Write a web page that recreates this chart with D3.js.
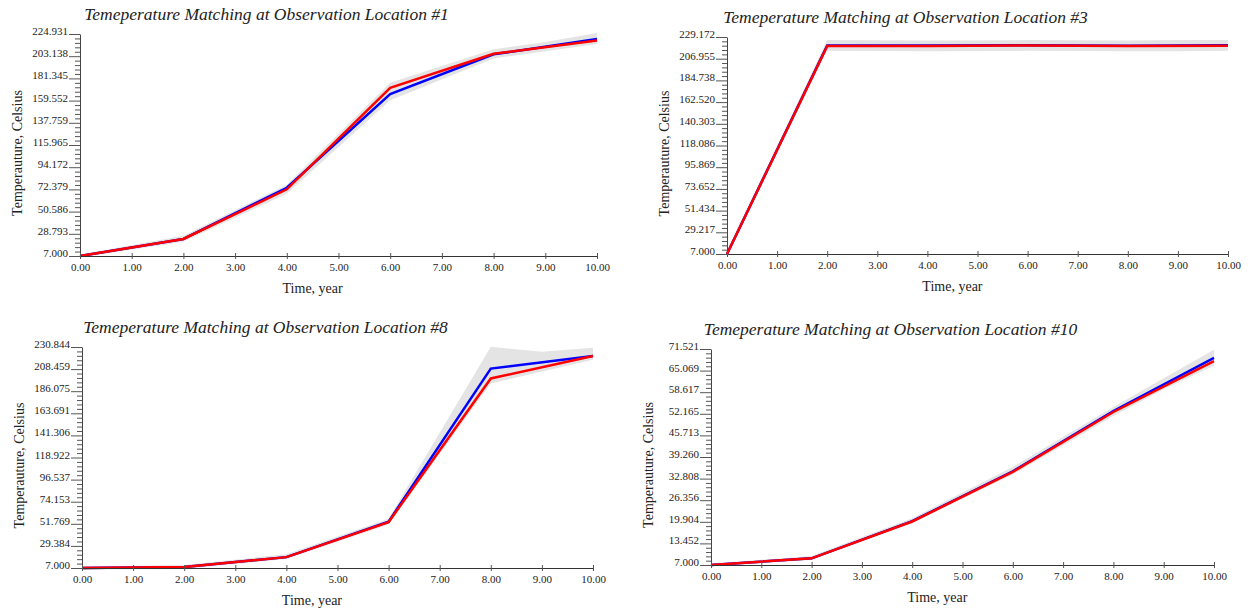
<!DOCTYPE html>
<html lang="en">
<head>
  <meta charset="UTF-8">
  <title>Temperature Matching</title>
  <script src="https://d3js.org/d3.v7.min.js"></script>
  <style>
    body {
      background: #fff;
      margin: 0;
    }
    text {
      font-family: 'Liberation Serif', 'Times New Roman', serif;
      fill: #222;
    }
    .title {
      font-size: 17.5px;
      font-style: italic;
      text-anchor: middle;
    }
    .axis-title {
      font-size: 14px;
      text-anchor: middle;
    }
    .tick text {
      font-size: 11px;
    }
  </style>
</head>
<body>
  <script>
    // observation locations
    var locations = ["#1", "#3", "#8", "#10"];

    // y tick labels, as printed
    var ticksLoc1 = ["7.000", "28.793", "50.586", "72.379", "94.172", "115.965", "137.759", "159.552", "181.345", "203.138", "224.931"];
    var ticksLoc3 = ["7.000", "29.217", "51.434", "73.652", "95.869", "118.086", "140.303", "162.520", "184.738", "206.955", "229.172"];
    var ticksLoc8 = ["7.000", "29.384", "51.769", "74.153", "96.537", "118.922", "141.306", "163.691", "186.075", "208.459", "230.844"];
    var ticksLoc10 = ["7.000", "13.452", "19.904", "26.356", "32.808", "39.260", "45.713", "52.165", "58.617", "65.069", "71.521"];

    // time, year
    var years = [0, 2, 4, 6, 8, 10];
    var bandYears = [0, 2, 4, 6, 8, 9, 10];

    // blue curve
    var blueLoc1 = [7, 23.7, 74, 166, 205, 220];
    var blueLoc3 = [7, 220.5, 220.5, 220.8, 220.3, 220.6];
    var blueLoc8 = [7, 8, 18, 54, 209, 221.7];
    var blueLoc10 = [7, 9, 20.1, 35, 53, 68.9];

    // red curve
    var redLoc1 = [7, 23.7, 72.5, 172, 205.5, 218.5];
    var redLoc3 = [7, 220, 220, 220.5, 220, 220.3];
    var redLoc8 = [7, 8, 18, 53.5, 199, 221.7];
    var redLoc10 = [7, 9, 20, 34.8, 52.7, 67.9];

    // grey envelope
    var lowLoc1 = [5.5, 21, 68, 160, 201, 208, 215];
    var highLoc1 = [8.5, 27, 77, 177, 210, 217, 226];
    var lowLoc3 = [5, 215, 214.5, 215, 214.5, 214.5, 215];
    var highLoc3 = [9, 226, 225.5, 226, 225.5, 226, 226];
    var lowLoc8 = [5.5, 6, 16, 51, 194, 206, 218];
    var highLoc8 = [8.5, 10, 21, 57, 231, 226, 230];
    var lowLoc10 = [6.6, 8.5, 19.5, 34, 51.5, 59.5, 66.5];
    var highLoc10 = [7.4, 9.7, 21, 36.3, 54.2, 62.8, 71.3];

    var yTicks = [ticksLoc1, ticksLoc3, ticksLoc8, ticksLoc10];
    var blue = [blueLoc1, blueLoc3, blueLoc8, blueLoc10];
    var red = [redLoc1, redLoc3, redLoc8, redLoc10];
    var low = [lowLoc1, lowLoc3, lowLoc8, lowLoc10];
    var high = [highLoc1, highLoc3, highLoc8, highLoc10];

    // plot rectangles (left, right, top, bottom)
    var frames = [
      { l: 80, r: 597, t: 34, b: 256 },
      { l: 727, r: 1228, t: 37, b: 254 },
      { l: 82, r: 593, t: 347, b: 568 },
      { l: 711, r: 1214, t: 349, b: 565 }
    ];

    var svg = d3.select("body").append("svg")
      .attr("width", 1250)
      .attr("height", 612);

    frames.forEach(function(f, i) {
      var major = yTicks[i].map(Number);
      var x = d3.scaleLinear().domain([0, 10]).range([f.l, f.r]);
      var y = d3.scaleLinear().domain([major[0], major[major.length - 1]]).range([f.b, f.t]);

      // four small ticks between each pair of labelled ones
      var minor = [];
      major.slice(1).forEach(function(m, k) {
        var a = major[k];
        d3.range(1, 5).forEach(function(s) { minor.push(a + (m - a) * s / 5); });
      });

      var g = svg.append("g");

      // envelope
      var area = d3.area()
        .x(function(d, k) { return x(bandYears[k]); })
        .y0(function(d, k) { return y(low[i][k]); })
        .y1(function(d, k) { return y(high[i][k]); });

      g.append("path")
        .datum(low[i])
        .attr("d", area)
        .attr("fill", "#e4e4e4");

      var line = d3.line()
        .x(function(d, k) { return x(years[k]); })
        .y(function(d) { return y(d); });

      g.append("path")
        .datum(blue[i])
        .attr("d", line)
        .attr("fill", "none")
        .attr("stroke", "#0000ff")
        .attr("stroke-width", 2.5);

      g.append("path")
        .datum(red[i])
        .attr("d", line)
        .attr("fill", "none")
        .attr("stroke", "#ff0000")
        .attr("stroke-width", 2.5);

      // y axis: minor ruler, then labelled ticks
      g.append("g")
        .attr("transform", "translate(" + f.l + ",0)")
        .call(d3.axisLeft(y).tickValues(minor).tickSize(5).tickSizeOuter(0).tickFormat(""))
        .call(function(a) {
          a.selectAll("line").attr("stroke", "#555");
          a.select(".domain").attr("stroke", "#444");
        });

      g.append("g")
        .attr("transform", "translate(" + f.l + ",0)")
        .call(d3.axisLeft(y).tickValues(major).tickSize(11).tickSizeOuter(0).tickPadding(1)
          .tickFormat(d3.format(".3f")))
        .call(function(a) {
          a.selectAll("line").attr("stroke", "#555");
          a.select(".domain").remove();
          a.selectAll("text").attr("dy", "0.05em").style("font-family", "'Liberation Serif', serif");
        });

      // x axis
      g.append("g")
        .attr("transform", "translate(0," + f.b + ")")
        .call(d3.axisBottom(x).ticks(10).tickSize(3).tickSizeOuter(0).tickPadding(4)
          .tickFormat(d3.format(".2f")))
        .call(function(a) {
          a.select(".domain").attr("stroke", "#333").attr("stroke-width", 1.2);
          a.selectAll("line").attr("y1", -3).attr("stroke", "#555");
          a.selectAll("text").style("font-family", "'Liberation Serif', serif");
        });

      // titles
      g.append("text")
        .classed("title", true)
        .attr("x", (f.l + f.r) / 2 - 72)
        .attr("y", f.t - 14)
        .text("Temeperature Matching at Observation Location " + locations[i]);

      g.append("text")
        .classed("axis-title", true)
        .attr("x", f.l + 0.45 * (f.r - f.l))
        .attr("y", f.b + 37)
        .text("Time, year");

      g.append("text")
        .classed("axis-title", true)
        .attr("transform", "translate(" + (f.l - 58) + "," + ((f.t + f.b) / 2 + 8) + ") rotate(-90)")
        .text("Temperauture, Celsius");
    });
  </script>
</body>
</html>
